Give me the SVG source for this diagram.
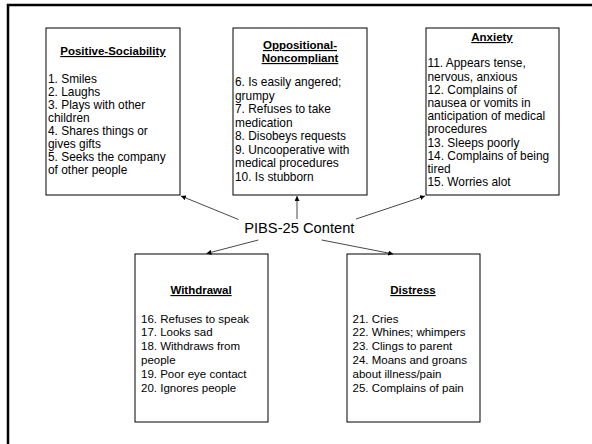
<svg xmlns="http://www.w3.org/2000/svg" width="592" height="444" viewBox="0 0 592 444">
<defs>
<style>
.box{fill:#fff;stroke:#000;stroke-width:1}
.t{font-family:"Liberation Sans",Arial,sans-serif;font-size:11.5px;fill:#000}
.b{font-size:11.9px}
.h{font-weight:bold;text-anchor:middle;text-decoration:underline}
.c{stroke:#333;stroke-width:0.9;fill:none;marker-end:url(#ah)}
</style>
<marker id="ah" viewBox="0 0 10 10" refX="10" refY="5" markerWidth="5" markerHeight="5" markerUnits="userSpaceOnUse" orient="auto">
<path d="M0,0 L10,5 L0,10 z" fill="#000"/>
</marker>
</defs>
<rect width="592" height="444" fill="#fff"/>
<path d="M8,444 V5 H592" fill="none" stroke="#000" stroke-width="2.5"/>

<g id="positive">
<rect class="box" x="46" y="28" width="134" height="167"/>
<text class="t h" x="113" y="55">Positive-Sociability</text>
<text class="t b">
<tspan x="48" y="82.5">1. Smiles</tspan>
<tspan x="48" y="95.6">2. Laughs</tspan>
<tspan x="48" y="108.7">3. Plays with other</tspan>
<tspan x="48" y="121.8">children</tspan>
<tspan x="48" y="134.9">4. Shares things or</tspan>
<tspan x="48" y="148">gives gifts</tspan>
<tspan x="48" y="161.1">5. Seeks the company</tspan>
<tspan x="48" y="174.2">of other people</tspan>
</text>
</g>

<g id="oppositional">
<rect class="box" x="233" y="28" width="134" height="167"/>
<text class="t h" x="300" y="49">Oppositional-</text>
<text class="t h" x="300" y="62">Noncompliant</text>
<text class="t b">
<tspan x="235" y="86">6. Is easily angered;</tspan>
<tspan x="235" y="99.5">grumpy</tspan>
<tspan x="235" y="113">7. Refuses to take</tspan>
<tspan x="235" y="126.5">medication</tspan>
<tspan x="235" y="140">8. Disobeys requests</tspan>
<tspan x="235" y="153.5">9. Uncooperative with</tspan>
<tspan x="235" y="167">medical procedures</tspan>
<tspan x="235" y="180.5">10. Is stubborn</tspan>
</text>
</g>

<g id="anxiety">
<rect class="box" x="426" y="28" width="133" height="167"/>
<text class="t h" x="492" y="41">Anxiety</text>
<text class="t b">
<tspan x="427.5" y="67.3">11. Appears tense,</tspan>
<tspan x="427.5" y="80.5">nervous, anxious</tspan>
<tspan x="427.5" y="93.7">12. Complains of</tspan>
<tspan x="427.5" y="106.9">nausea or vomits in</tspan>
<tspan x="427.5" y="120.1">anticipation of medical</tspan>
<tspan x="427.5" y="133.3">procedures</tspan>
<tspan x="427.5" y="146.5">13. Sleeps poorly</tspan>
<tspan x="427.5" y="159.7">14. Complains of being</tspan>
<tspan x="427.5" y="172.9">tired</tspan>
<tspan x="427.5" y="186.1">15. Worries alot</tspan>
</text>
</g>

<g id="withdrawal">
<rect class="box" x="135" y="254" width="133" height="168"/>
<text class="t h" x="201" y="294">Withdrawal</text>
<text class="t">
<tspan x="141" y="322.5">16. Refuses to speak</tspan>
<tspan x="141" y="336.3">17. Looks sad</tspan>
<tspan x="141" y="350.1">18. Withdraws from</tspan>
<tspan x="141" y="363.9">people</tspan>
<tspan x="141" y="377.7">19. Poor eye contact</tspan>
<tspan x="141" y="391.5">20. Ignores people</tspan>
</text>
</g>

<g id="distress">
<rect class="box" x="347" y="254" width="133" height="168"/>
<text class="t h" x="413" y="294">Distress</text>
<text class="t">
<tspan x="352.5" y="322.5">21. Cries</tspan>
<tspan x="352.5" y="336.3">22. Whines; whimpers</tspan>
<tspan x="352.5" y="350.1">23. Clings to parent</tspan>
<tspan x="352.5" y="363.9">24. Moans and groans</tspan>
<tspan x="352.5" y="377.7">about illness/pain</tspan>
<tspan x="352.5" y="391.5">25. Complains of pain</tspan>
</text>
</g>

<g id="center">
<text x="299.3" y="233.3" font-family="'Liberation Sans',Arial,sans-serif" font-size="14.7" text-anchor="middle" fill="#000">PIBS-25 Content</text>
</g>

<g id="connectors">
<line class="c" x1="238.5" y1="219.5" x2="181" y2="196"/>
<line class="c" x1="297" y1="219" x2="297" y2="196"/>
<line class="c" x1="356" y1="219" x2="425" y2="196"/>
<line class="c" x1="258.3" y1="240" x2="206.5" y2="253.5"/>
<line class="c" x1="321.7" y1="240" x2="393.3" y2="254"/>
</g>
</svg>
